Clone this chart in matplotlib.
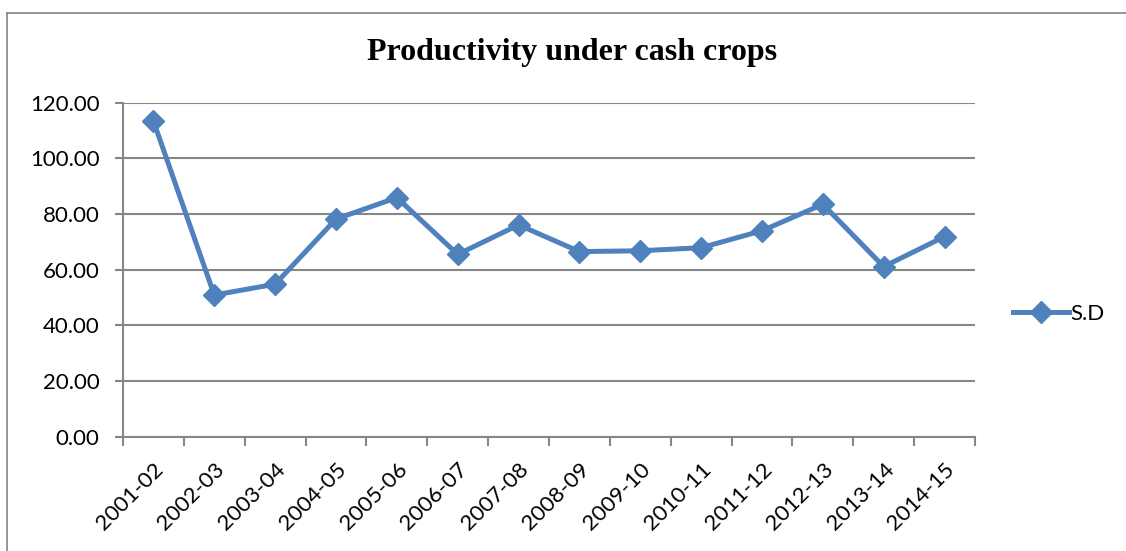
import matplotlib
matplotlib.use("Agg")
import matplotlib.pyplot as plt
from matplotlib.lines import Line2D
import numpy as np

years = ["2001-02", "2002-03", "2003-04", "2004-05", "2005-06", "2006-07", "2007-08",
         "2008-09", "2009-10", "2010-11", "2011-12", "2012-13", "2013-14", "2014-15"]
sd_values = [113.4, 50.9, 54.8, 78.2, 85.9, 65.5, 76.1,
             66.5, 66.8, 67.9, 74.0, 83.5, 61.1, 71.9]
y_ticks = [0, 20, 40, 60, 80, 100, 120]

W, H = 1126, 551
fig = plt.figure(figsize=(W / 100, H / 100), dpi=100)

blue = "#4F81BD"
grid_gray = "#868686"
label_font = ["Lato", "DejaVu Sans"]

# chart frame (left and top edges)
fig.add_artist(Line2D([6.5 / W, 6.5 / W], [0, 1 - 12.5 / H], color="#8c8c8c", lw=1.3,
                      transform=fig.transFigure))
fig.add_artist(Line2D([6.5 / W, 1], [1 - 12.5 / H, 1 - 12.5 / H], color="#8c8c8c", lw=1.3,
                      transform=fig.transFigure))

left, right, top, bottom = 123, 975, 102.7, 436.7
ax = fig.add_axes([left / W, 1 - bottom / H, (right - left) / W, (bottom - top) / H])

x = np.arange(len(years))
ax.plot(x, sd_values, color=blue, lw=3.6, marker="D", markersize=11.5,
        markerfacecolor=blue, markeredgecolor=blue, solid_joinstyle="miter")

ax.set_xlim(-0.5, len(years) - 0.5)
ax.set_ylim(0, 120)
ax.set_yticks(y_ticks)
ax.set_yticklabels([f"{v:.2f}" for v in y_ticks], fontsize=16, family=label_font)
ax.yaxis.grid(True, color=grid_gray, lw=1.5)
ax.set_axisbelow(True)

# ticks between categories, labels at category centres
ax.set_xticks(np.arange(-0.5, len(years), 1.0))
ax.set_xticklabels([])
ax.set_xticks(x, minor=True)
ax.set_xticklabels(years, minor=True, rotation=45, ha="right", va="top",
                   rotation_mode="anchor", fontsize=16, family=label_font)
ax.tick_params(axis="x", which="minor", length=0, pad=16)
ax.tick_params(axis="x", which="major", length=6.5, color=grid_gray, width=1.5)
ax.tick_params(axis="y", length=5.8, color=grid_gray, width=1.5, pad=11)

for side in ["top", "right"]:
    ax.spines[side].set_visible(False)
for side in ["left", "bottom"]:
    ax.spines[side].set_color(grid_gray)
    ax.spines[side].set_linewidth(1.5)

fig.text(572 / W, 1 - 53 / H, "Productivity under cash crops", ha="center", va="center",
         fontsize=23, fontweight="bold", family="Liberation Serif")

handle = Line2D([], [], color=blue, lw=3.6, marker="D", markersize=11.5)
fig.legend([handle], ["S.D"], loc="center left", bbox_to_anchor=(1013 / W, 1 - 314 / H),
           frameon=False, prop={"family": label_font, "size": 16},
           handlelength=2.5, handletextpad=0.1, borderpad=0, borderaxespad=0)

fig.savefig("out.png", dpi=100)
